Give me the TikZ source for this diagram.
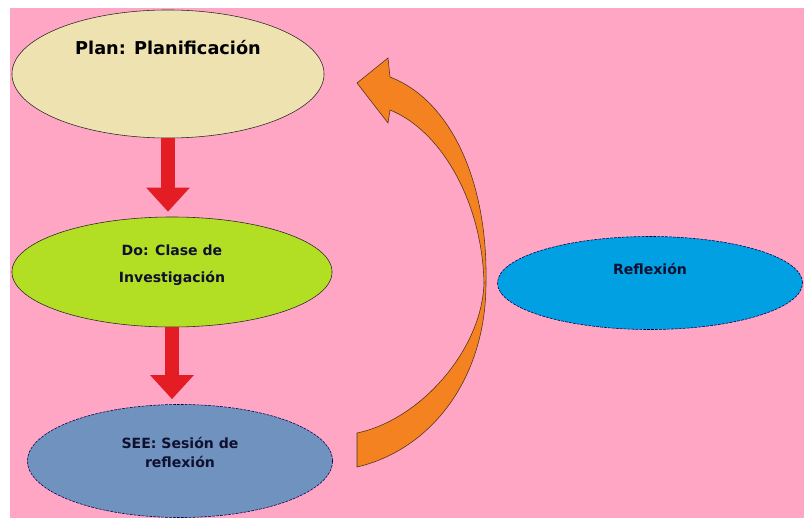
\documentclass[tikz,border=0pt]{standalone}
\usepackage{fontspec}
\setmainfont{DejaVu Sans}
\usetikzlibrary{shapes.geometric,arrows.meta}

\definecolor{bgpink}{RGB}{255,166,196}
\definecolor{plancol}{RGB}{238,226,176}
\definecolor{docol}{RGB}{178,222,36}
\definecolor{seecol}{RGB}{112,146,190}
\definecolor{refcol}{RGB}{0,160,226}
\definecolor{arrowred}{RGB}{228,28,36}
\definecolor{arroworange}{RGB}{245,130,32}
\definecolor{textnavy}{RGB}{16,16,48}

\begin{document}
\begin{tikzpicture}
        [x=0.025cm, y=-0.025cm,
        stage/.style={ellipse, draw=black!85, thin, inner sep=0pt, align=center, text=textnavy,
            font=\bfseries\fontsize{10}{12}\selectfont},
        dotted edge/.style={draw=black!70!blue, dash pattern=on 2pt off 0.8pt},
        down/.style={draw=arrowred, line width=0.35cm, -{Triangle[width=1.05cm,length=0.6cm]}, shorten >=0.125cm},
        back/.style={fill=arroworange, draw=black!60!brown, thin}]

        \useasboundingbox (0,0) rectangle (804,519);
        \fill[bgpink] (10,8) rectangle (804,518);

        % the four stages
        \node[stage, fill=plancol, minimum width=7.8cm, minimum height=3.2cm, text=black,
            font=\bfseries\fontsize{12.6}{15}\selectfont, text height=0.3cm, text depth=1.275cm]
            (plan) at (168,74) {Plan: Planificación};
        \node[stage, fill=docol, minimum width=8cm, minimum height=2.75cm,
            text height=0.85cm, text depth=0.35cm]
            (do) at (172,272) {Do: Clase de\\[0.25cm]Investigación};
        \node[stage, dotted edge, fill=seecol, minimum width=7.625cm, minimum height=2.825cm,
            text height=0.725cm, text depth=0.425cm]
            (see) at (180,461) {SEE: Sesión de\\[0.05cm]reflexión};
        \node[stage, dotted edge, fill=refcol, minimum width=7.625cm, minimum height=2.325cm,
            text height=0.25cm, text depth=0.65cm]
            (refl) at (650,283) {Reflexión};

        % red arrows down
        \draw[down] (plan.south) -- (plan.south |- do.north);
        \draw[down] (do.south) -- (do.south |- see.north);

        % orange arrow back up to the plan
        \path[back] (357,433) .. controls (420,420) and (482,350) .. (484,283)
            .. controls (482,200) and (440,130) .. (390,110)
            -- (388,123) -- (357,83) -- (388,58) -- (390,77)
            .. controls (450,100) and (488,180) .. (486,283)
            .. controls (486,380) and (430,450) .. (357,467) -- cycle;

    \end{tikzpicture}
\end{document}
